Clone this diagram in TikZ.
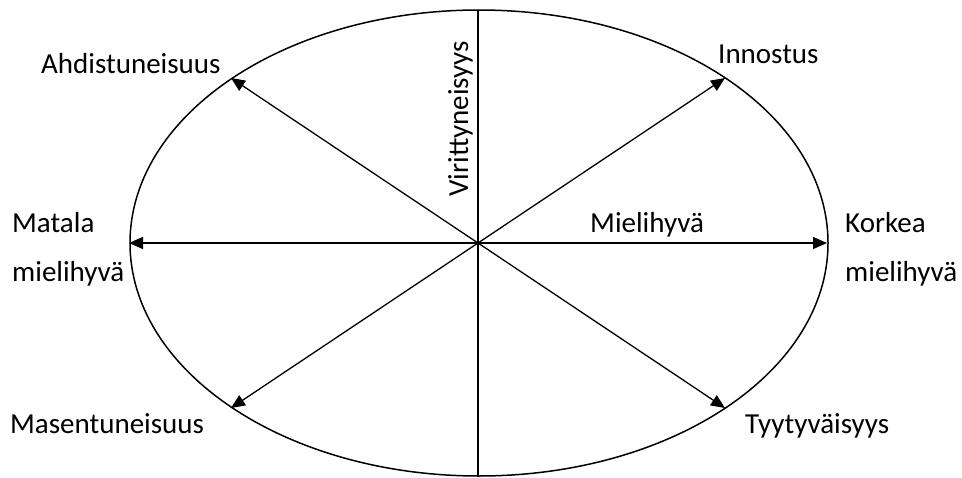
\documentclass[tikz,border=0pt]{standalone}
\usepackage{fontspec}
\setmainfont{Carlito}
\usetikzlibrary{arrows.meta}
\tikzset{
	arr/.style={line width=1.3pt, {Triangle[length=14pt,width=12pt]}-{Triangle[length=14pt,width=12pt]}},
	lbl/.style={inner sep=0pt, anchor=base west, font=\fontsize{29}{34}\selectfont}
}

\begin{document}
\begin{tikzpicture}[x=1pt, y=-1pt]
		%%%%% START %%%%%
		\useasboundingbox (0, 0) rectangle (962, 477);
		
		\draw[line width=1.5pt] (479, 243) ellipse (349 and 233);
		
		\coordinate (top) at (478, 10);
		\coordinate (bot) at (478, 477);
		\draw[line width=2pt] (top) -- (bot);
		
		\coordinate (w) at (129, 243);
		\coordinate (e) at (827, 243);
		\coordinate (nw) at (231, 78);
		\coordinate (se) at (725, 408);
		\coordinate (ne) at (725, 78);
		\coordinate (sw) at (231, 408);
		
		\draw[arr] (w) -- (e);
		\draw[arr] (nw) -- (se);
		\draw[arr] (ne) -- (sw);
		
		\node[lbl] (ahd) at (41, 73) {Ahdistuneisuus};
		\node[lbl] (inn) at (718, 63) {Innostus};
		\node[lbl, rotate=90] (vir) at (468, 197) {Virittyneisyys};
		\node[lbl] (mat) at (12, 232) {Matala};
		\node[lbl] (mat2) at (12, 281) {mielihyvä};
		\node[lbl] (mie) at (590, 232) {Mielihyvä};
		\node[lbl] (kor) at (845, 232) {Korkea};
		\node[lbl] (kor2) at (845, 281) {mielihyvä};
		\node[lbl] (mas) at (10, 433) {Masentuneisuus};
		\node[lbl] (tyy) at (745, 433) {Tyytyväisyys};
		
		%%%%% END %%%%%
	\end{tikzpicture}
\end{document}
